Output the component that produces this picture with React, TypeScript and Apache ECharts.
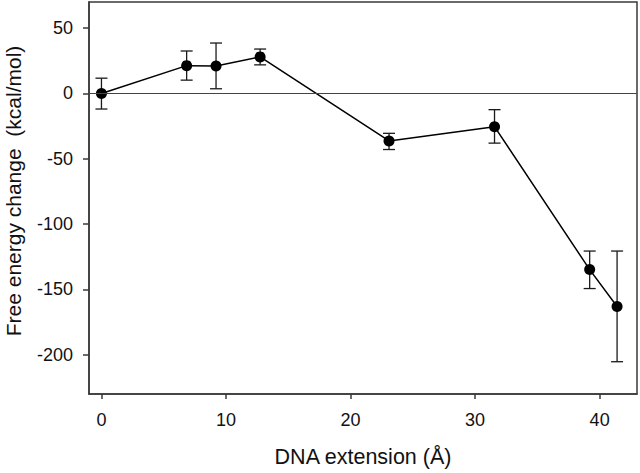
import React, { useEffect, useRef } from "react";
import * as echarts from "echarts";

const extension = [0, 6.84, 9.2, 12.74, 23.09, 31.56, 39.2, 41.4];
const energy = [0, 21.3, 21.1, 28, -36.3, -25.4, -134.8, -163];
const errUpper = [11.7, 32.5, 38.6, 34, -30.5, -12.4, -120.6, -120.6];
const errLower = [-11.9, 10.2, 3.6, 21.9, -42.9, -38, -149.3, -205.3];
const xTicks = [0, 10, 20, 30, 40];
const yTicks = [-200, -150, -100, -50, 0, 50];
const xTitle = "DNA extension (Å)";
const yTitle = "Free energy change  (kcal/mol)";

const FONT = "'Liberation Sans', Arial, Helvetica, sans-serif";

export default function App() {
  const ref = useRef<HTMLDivElement>(null);
  useEffect(() => {
    if (!ref.current) return;
    const chart = echarts.init(ref.current, null, { renderer: "svg" });
    const linePts = extension.map((x, i) => [x, energy[i]]);
    const errData = extension.map((x, i) => [x, errLower[i], errUpper[i]]);
    chart.setOption({
      animation: false,
      backgroundColor: "#ffffff",
      grid: {
        left: 89,
        right: 3,
        top: 2,
        bottom: 78,
        show: true,
        borderColor: "#3a3a3a",
        borderWidth: 1.5,
        backgroundColor: "transparent",
      },
      graphic: [
        {
          type: "text",
          x: 13,
          y: 191,
          rotation: Math.PI / 2,
          style: {
            text: yTitle,
            fontFamily: FONT,
            fontSize: 21,
            fill: "#111",
            align: "center",
            verticalAlign: "middle",
          },
        },
      ],
      xAxis: {
        type: "value",
        min: -1,
        max: 43,
        name: xTitle,
        nameLocation: "middle",
        nameGap: 52,
        nameTextStyle: { fontFamily: FONT, fontSize: 21.5, color: "#111" },
        axisLine: { show: true, onZero: false, lineStyle: { color: "#3a3a3a", width: 1.5 } },
        axisTick: { show: true, customValues: xTicks, length: 5, lineStyle: { color: "#3a3a3a", width: 1.5 } },
        axisLabel: { customValues: xTicks, margin: 17, fontFamily: FONT, fontSize: 18, color: "#111" },
        splitLine: { show: false },
      },
      yAxis: {
        type: "value",
        min: -230,
        max: 70,
        axisLine: { show: true, onZero: false, lineStyle: { color: "#3a3a3a", width: 1.5 } },
        axisTick: { show: true, customValues: yTicks, length: 6, lineStyle: { color: "#3a3a3a", width: 1.5 } },
        axisLabel: { customValues: yTicks, margin: 16, fontFamily: FONT, fontSize: 18, color: "#111" },
        splitLine: { show: false },
      },
      series: [
        {
          type: "custom",
          data: errData,
          z: 3,
          renderItem: (params: any, api: any) => {
            const x = api.value(0);
            const lo = api.coord([x, api.value(1)]);
            const hi = api.coord([x, api.value(2)]);
            const w = 6;
            const style = { stroke: "#1a1a1a", lineWidth: 1.3 };
            return {
              type: "group",
              children: [
                { type: "line", shape: { x1: hi[0], y1: hi[1], x2: lo[0], y2: lo[1] }, style },
                { type: "line", shape: { x1: hi[0] - w, y1: hi[1], x2: hi[0] + w, y2: hi[1] }, style },
                { type: "line", shape: { x1: lo[0] - w, y1: lo[1], x2: lo[0] + w, y2: lo[1] }, style },
              ],
            };
          },
        },
        {
          type: "line",
          data: linePts,
          z: 4,
          symbol: "circle",
          symbolSize: 11,
          itemStyle: { color: "#000" },
          lineStyle: { color: "#000", width: 1.5 },
          markLine: {
            silent: true,
            symbol: "none",
            label: { show: false },
            lineStyle: { color: "#444", width: 1, type: "solid" },
            data: [{ yAxis: 0 }],
          },
        },
      ],
    });
    return () => chart.dispose();
  }, []);
  return <div ref={ref} style={{ width: 640, height: 473, position: "absolute", left: 0, top: 0 }} />;
}
